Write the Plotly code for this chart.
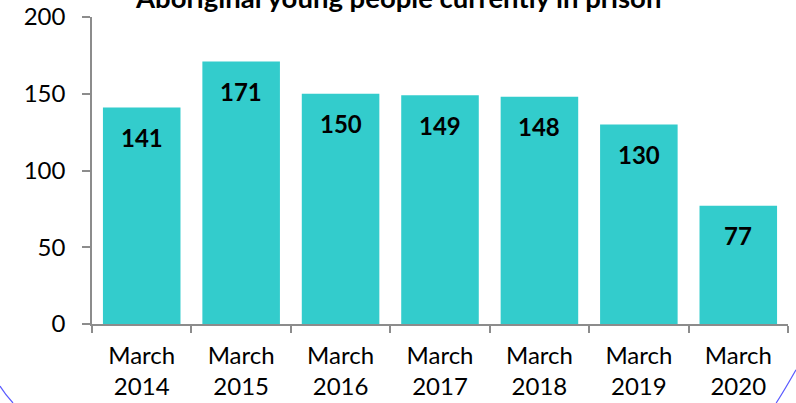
import plotly.graph_objects as go

categories = ["March<br>2014", "March<br>2015", "March<br>2016", "March<br>2017",
              "March<br>2018", "March<br>2019", "March<br>2020"]
values = [141, 171, 150, 149, 148, 130, 77]
y_ticks = [0, 50, 100, 150, 200]
title_text = "Aboriginal young people currently in prison"

FONT = "Lato"
BAR = "#33CCCC"
AX = "#8C8C8C"

fig = go.Figure()
fig.add_trace(go.Bar(x=categories, y=values, marker=dict(color=BAR, line=dict(width=0)),
                     hoverinfo="skip"))

for c, v in zip(categories, values):
    fig.add_annotation(x=c, y=v, xref="x", yref="y", text=f"<b>{v}</b>", showarrow=False,
                       yanchor="middle", yshift=-30,
                       font=dict(family=FONT, size=24, color="black"))

# title (partially cut off at the top, as in the reference)
fig.add_annotation(x=0.439, y=1.063, xref="paper", yref="paper", xanchor="center",
                   yanchor="middle", showarrow=False, text=f"<b>{title_text}</b>",
                   font=dict(family=FONT, size=27.5, color="black"))

# decorative blue curves at bottom corners
fig.add_shape(type="path", xref="paper", yref="paper",
              path="M -0.1322 -0.2020 Q -0.1250 -0.2280 -0.1135 -0.2573",
              line=dict(color="#5B5BFF", width=1.2))
fig.add_shape(type="path", xref="paper", yref="paper",
              path="M 1.0115 -0.1490 Q 0.9950 -0.2150 0.9830 -0.2573",
              line=dict(color="#5B5BFF", width=1.2))

fig.update_layout(
    width=796, height=403,
    margin=dict(l=92, r=8, t=17, b=79, autoexpand=False),
    paper_bgcolor="white", plot_bgcolor="white",
    bargap=0.22,
    showlegend=False,
    font=dict(family=FONT, size=24, color="black"),
)
fig.update_xaxes(showline=True, linecolor=AX, linewidth=1.5, ticks="outside",
                 tickson="boundaries", ticklen=7, tickcolor=AX, tickwidth=1.5,
                 showgrid=False, ticklabelstandoff=9,
                 tickfont=dict(family=FONT, size=24, color="black"),
                 automargin=False, fixedrange=True)
fig.update_yaxes(range=[0, 200], tickvals=y_ticks, showline=True, linecolor=AX, linewidth=1.5,
                 ticks="outside", ticklen=8, tickcolor=AX, tickwidth=1.5, showgrid=False,
                 zeroline=False, ticklabelstandoff=12, automargin=False,
                 tickfont=dict(family=FONT, size=24, color="black"), fixedrange=True)

fig.write_html("out.html", config={"displayModeBar": False},
               post_script="document.body.style.margin='0';document.body.style.overflow='hidden';")
